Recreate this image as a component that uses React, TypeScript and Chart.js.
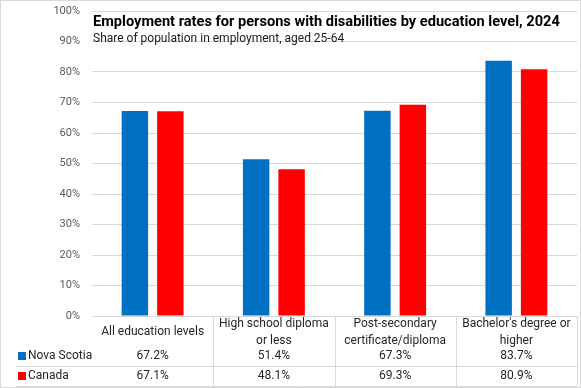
import React, { useEffect, useRef } from "react";
import { Chart, registerables } from "chart.js";

Chart.register(...registerables);

const categories: string[][] = [
  ["All education levels"],
  ["High school diploma", "or less"],
  ["Post-secondary", "certificate/diploma"],
  ["Bachelor's degree or", "higher"],
];
const novaScotia = [67.2, 51.4, 67.3, 83.7];
const canada = [67.1, 48.1, 69.3, 80.9];
const seriesNames = ["Nova Scotia", "Canada"];
const seriesColors = ["#0070C0", "#FF0000"];
const yTicks = [0, 10, 20, 30, 40, 50, 60, 70, 80, 90, 100];
const titleText = "Employment rates for persons with disabilities by education level, 2024";
const subtitleText = "Share of population in employment, aged 25-64";

const FONT = "Roboto, 'Noto Sans', sans-serif";

const tablePlugin = {
  id: "dataTable",
  afterDraw(chart: any) {
    const ctx = chart.ctx;
    const x = chart.scales.x;
    const area = chart.chartArea;
    const n = categories.length;
    const bottom = area.bottom;
    const rowNS = bottom + 40;
    const rowCA = bottom + 60;
    const tableBottom = bottom + 70;
    ctx.save();
    // title
    ctx.fillStyle = "#000000";
    ctx.textAlign = "left";
    ctx.textBaseline = "middle";
    ctx.font = `bold 14.6px ${FONT}`;
    ctx.fillText(titleText, area.left + 1, area.top + 11);
    ctx.font = `12px ${FONT}`;
    ctx.fillStyle = "#1a1a1a";
    ctx.fillText(subtitleText, area.left + 1, area.top + 28);

    // table lines
    ctx.strokeStyle = "#d9d9d9";
    ctx.lineWidth = 1;
    const bounds: number[] = [];
    for (let i = 0; i <= n; i++) {
      if (i === 0) bounds.push(area.left);
      else if (i === n) bounds.push(area.right);
      else bounds.push((x.getPixelForValue(i - 1) + x.getPixelForValue(i)) / 2);
    }
    ctx.beginPath();
    for (let i = 1; i <= n; i++) {
      const bx = Math.round(bounds[i]) + 0.5;
      ctx.moveTo(bx, bottom);
      ctx.lineTo(bx, tableBottom);
    }
    ctx.moveTo(16, rowNS + 10.5);
    ctx.lineTo(area.right, rowNS + 10.5);
    ctx.moveTo(16, tableBottom + 0.5);
    ctx.lineTo(area.right, tableBottom + 0.5);
    ctx.stroke();

    // headers
    ctx.fillStyle = "#262626";
    ctx.textAlign = "center";
    ctx.font = `12px ${FONT}`;
    for (let i = 0; i < n; i++) {
      const cx = x.getPixelForValue(i);
      const lines = categories[i];
      const lh = 17;
      const cy = bottom + 16;
      lines.forEach((l, k) => {
        ctx.fillText(l, cx, cy + (k - (lines.length - 1) / 2) * lh);
      });
      ctx.fillText(novaScotia[i].toFixed(1) + "%", cx, rowNS);
      ctx.fillText(canada[i].toFixed(1) + "%", cx, rowCA);
    }
    // legend keys
    ctx.textAlign = "left";
    [rowNS, rowCA].forEach((ry, k) => {
      ctx.fillStyle = seriesColors[k];
      ctx.fillRect(18, ry - 4, 8, 8);
      ctx.fillStyle = "#262626";
      ctx.fillText(seriesNames[k], 28, ry);
    });
    // outer border
    ctx.strokeStyle = "#d9d9d9";
    ctx.strokeRect(0.5, 0.5, chart.width - 1, chart.height - 1);
    ctx.restore();
  },
};

export default function App() {
  const ref = useRef<HTMLCanvasElement | null>(null);
  useEffect(() => {
    document.body.style.margin = "0";
    const chart = new Chart(ref.current!, {
      type: "bar",
      data: {
        labels: categories.map((c) => c.join(" ")),
        datasets: [
          {
            label: seriesNames[0],
            data: novaScotia,
            backgroundColor: seriesColors[0],
            categoryPercentage: 0.585,
            barPercentage: 0.746,
          },
          {
            label: seriesNames[1],
            data: canada,
            backgroundColor: seriesColors[1],
            categoryPercentage: 0.585,
            barPercentage: 0.746,
          },
        ],
      },
      options: {
        responsive: false,
        animation: false,
        devicePixelRatio: 1,
        layout: { padding: { top: 11, right: 4, left: 0, bottom: 0 } },
        plugins: { legend: { display: false }, tooltip: { enabled: false } },
        scales: {
          x: {
            grid: { display: false },
            border: { display: false },
            ticks: { display: false },
            afterFit: (s: any) => {
              s.height = 72;
            },
          },
          y: {
            min: 0,
            max: 100,
            afterBuildTicks: (s: any) => {
              s.ticks = yTicks.map((v) => ({ value: v }));
            },
            grid: { color: "#d9d9d9", drawTicks: false },
            border: { display: false },
            ticks: {
              color: "#595959",
              font: { family: FONT, size: 11 },
              padding: 12,
              callback: (v: any) => v + "%",
            },
            afterFit: (s: any) => {
              s.width = 92;
              s.paddingTop = 0;
              s.paddingBottom = 0;
            },
          },
        },
      },
      plugins: [tablePlugin],
    });
    return () => chart.destroy();
  }, []);
  return (
    <div style={{ position: "absolute", left: 0, top: 0 }}>
      <canvas ref={ref} width={581} height={388} />
    </div>
  );
}
